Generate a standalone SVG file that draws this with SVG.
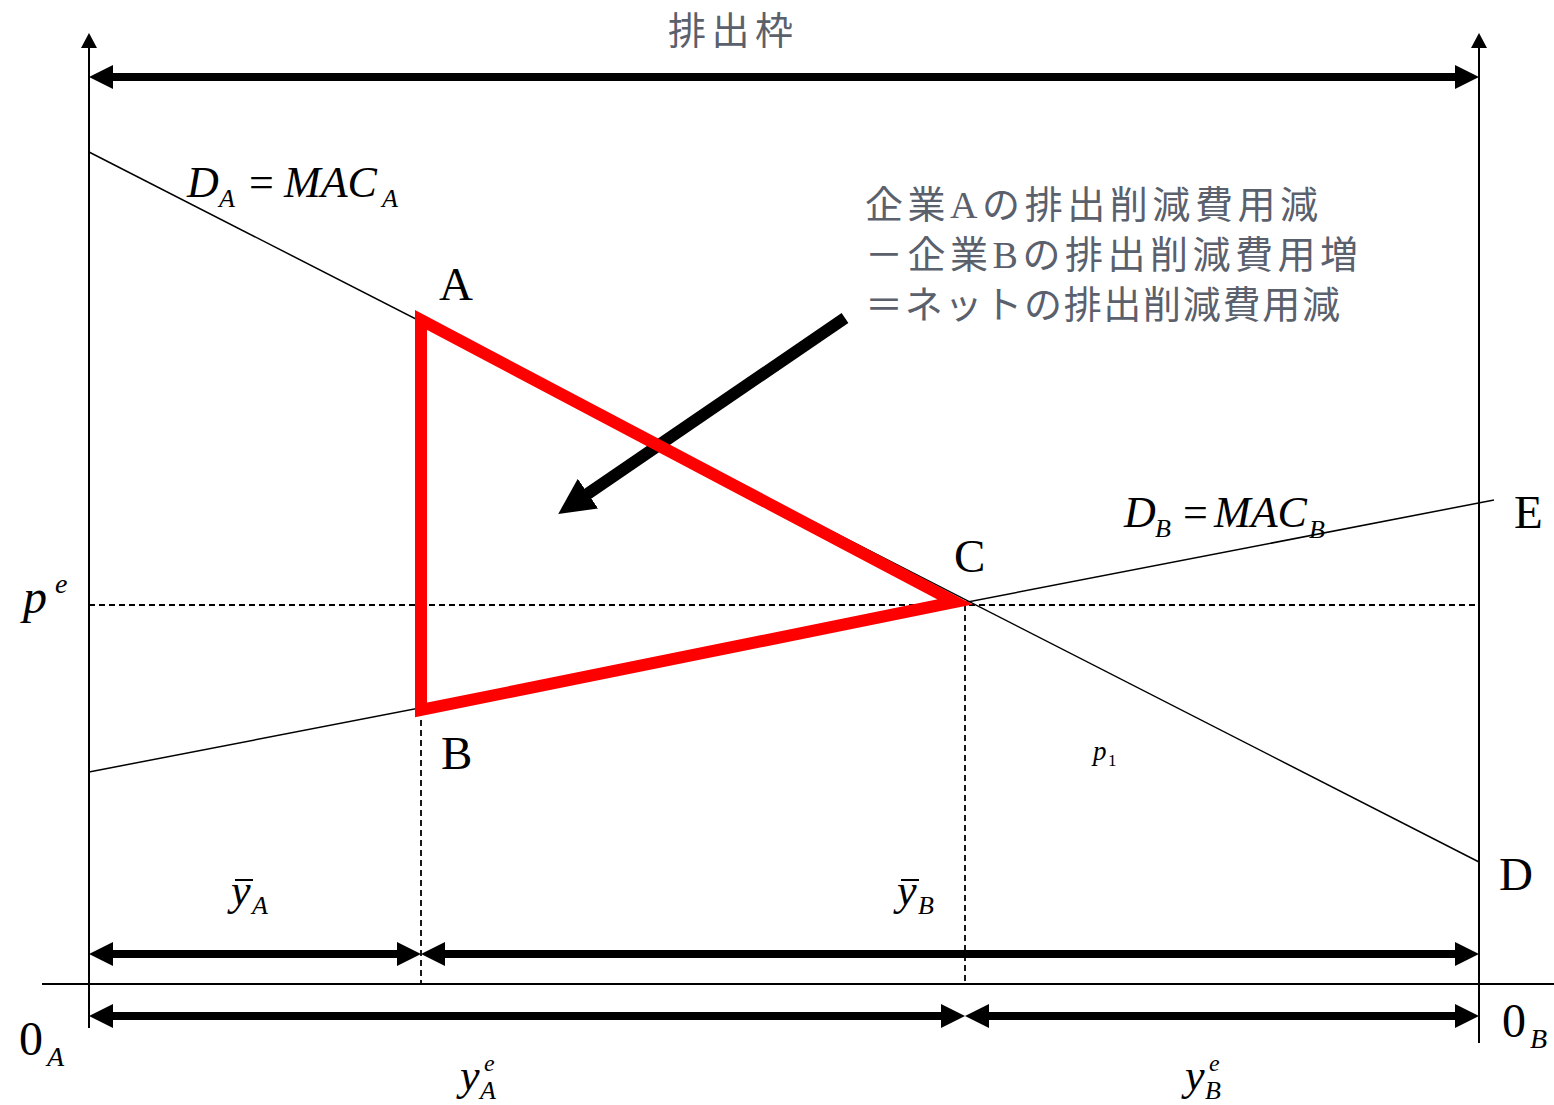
<svg xmlns="http://www.w3.org/2000/svg" width="1554" height="1105" viewBox="0 0 1554 1105">
<style>
.ax{stroke:#000;stroke-width:2;fill:none}
.thin{stroke:#000;stroke-width:1.5;fill:none}
.dash{stroke:#000;stroke-width:1.8;stroke-dasharray:6,4;fill:none}
.thick{stroke:#000;stroke-width:8;fill:none}
.m{font-family:"Liberation Serif","Times New Roman",serif;font-style:italic;fill:#000}
.r{font-family:"Liberation Serif","Times New Roman",serif;fill:#000}
.jp{font-family:"Liberation Serif","Noto Sans CJK JP",sans-serif;fill:#5a606c}
</style>
<defs>
<marker id="ah" viewBox="0 0 24 24" markerWidth="24" markerHeight="24" refX="4" refY="12" markerUnits="userSpaceOnUse" orient="auto-start-reverse">
<path d="M0,0 L24,12 L0,24 z" fill="#000"/>
</marker>
<marker id="sm" viewBox="0 0 15 16" markerWidth="15" markerHeight="16" refX="1" refY="8" markerUnits="userSpaceOnUse" orient="auto">
<path d="M0,0 L15,8 L0,16 z" fill="#000"/>
</marker>
<marker id="big" viewBox="0 0 36 36" markerWidth="36" markerHeight="36" refX="6" refY="18" markerUnits="userSpaceOnUse" orient="auto">
<path d="M0,0 L36,18 L0,36 z" fill="#000"/>
</marker>
</defs>
<rect width="1554" height="1105" fill="#fff"/>

<g id="axes">
<line class="ax" x1="89" y1="1028" x2="89" y2="47" marker-end="url(#sm)"/>
<line class="ax" x1="1479" y1="1043" x2="1479" y2="47" marker-end="url(#sm)"/>
<line class="ax" x1="42" y1="984" x2="1554" y2="984"/>
</g>

<g id="connectors">
<line class="thin" x1="89" y1="152" x2="1479" y2="862"/>
<line class="thin" x1="89" y1="772" x2="1494" y2="500"/>
<line class="dash" x1="89" y1="605" x2="1479" y2="605"/>
<line class="dash" x1="421" y1="710" x2="421" y2="984"/>
<line class="dash" x1="965" y1="605" x2="965" y2="984"/>
<line class="thick" x1="109" y1="77" x2="1459" y2="77" marker-start="url(#ah)" marker-end="url(#ah)"/>
<line class="thick" x1="109" y1="954" x2="401" y2="954" marker-start="url(#ah)" marker-end="url(#ah)"/>
<line class="thick" x1="441" y1="954" x2="1459" y2="954" marker-start="url(#ah)" marker-end="url(#ah)"/>
<line class="thick" x1="109" y1="1016" x2="945" y2="1016" marker-start="url(#ah)" marker-end="url(#ah)"/>
<line class="thick" x1="985" y1="1016" x2="1459" y2="1016" marker-start="url(#ah)" marker-end="url(#ah)"/>
<line x1="845" y1="318" x2="583" y2="497" stroke="#000" stroke-width="12" marker-end="url(#big)"/>
</g>

<g id="triangle">
<polygon points="421,320 421,710 955,602" fill="none" stroke="#ff0000" stroke-width="12" stroke-linejoin="miter"/>
</g>

<g id="title">
<text class="jp" x="668" y="44" font-size="38" textLength="125" lengthAdjust="spacing">排出枠</text>
</g>

<g id="note">
<text class="jp" x="865" y="218" font-size="38" textLength="453" lengthAdjust="spacing">企業Aの排出削減費用減</text>
<text class="jp" x="865" y="268" font-size="38" textLength="493" lengthAdjust="spacing">－企業Bの排出削減費用増</text>
<text class="jp" x="865" y="318" font-size="38" textLength="475" lengthAdjust="spacing">＝ネットの排出削減費用減</text>
</g>

<g id="label-DA">
<text class="m" x="187" y="197" font-size="44">D</text>
<text class="m" x="219" y="207" font-size="26">A</text>
<text class="r" x="249" y="197" font-size="44">=</text>
<text class="m" x="284" y="197" font-size="44">MAC</text>
<text class="m" x="382" y="207" font-size="26">A</text>
</g>

<g id="label-DB">
<text class="m" x="1124" y="527" font-size="44">D</text>
<text class="m" x="1155" y="537" font-size="26">B</text>
<text class="r" x="1183" y="527" font-size="44">=</text>
<text class="m" x="1214" y="527" font-size="44">MAC</text>
<text class="m" x="1309" y="538" font-size="26">B</text>
</g>

<g id="points">
<text class="r" x="439" y="300" font-size="47">A</text>
<text class="r" x="441" y="769" font-size="47">B</text>
<text class="r" x="954" y="572" font-size="47">C</text>
<text class="r" x="1499" y="890" font-size="47">D</text>
<text class="r" x="1514" y="528" font-size="47">E</text>
</g>

<g id="label-pe">
<text class="m" x="23" y="613" font-size="48">p</text>
<text class="m" x="55" y="593" font-size="28">e</text>
</g>

<g id="label-p1">
<text class="m" x="1093" y="760" font-size="27">p</text>
<text class="r" x="1108" y="766" font-size="17">1</text>
</g>

<g id="label-ybarA">
<text class="m" x="231" y="905" font-size="44">y</text>
<line x1="235" y1="880" x2="253" y2="880" stroke="#000" stroke-width="2"/>
<text class="m" x="252" y="914" font-size="26">A</text>
</g>

<g id="label-ybarB">
<text class="m" x="897" y="905" font-size="44">y</text>
<line x1="901" y1="880" x2="919" y2="880" stroke="#000" stroke-width="2"/>
<text class="m" x="918" y="914" font-size="26">B</text>
</g>

<g id="label-0A">
<text class="r" x="19" y="1055" font-size="48">0</text>
<text class="m" x="47" y="1066" font-size="28">A</text>
</g>

<g id="label-0B">
<text class="r" x="1502" y="1037" font-size="48">0</text>
<text class="m" x="1530" y="1048" font-size="28">B</text>
</g>

<g id="label-yeA">
<text class="m" x="460" y="1090" font-size="44">y</text>
<text class="m" x="484" y="1071" font-size="24">e</text>
<text class="m" x="480" y="1099" font-size="26">A</text>
</g>

<g id="label-yeB">
<text class="m" x="1185" y="1090" font-size="44">y</text>
<text class="m" x="1209" y="1071" font-size="24">e</text>
<text class="m" x="1205" y="1099" font-size="26">B</text>
</g>
</svg>
